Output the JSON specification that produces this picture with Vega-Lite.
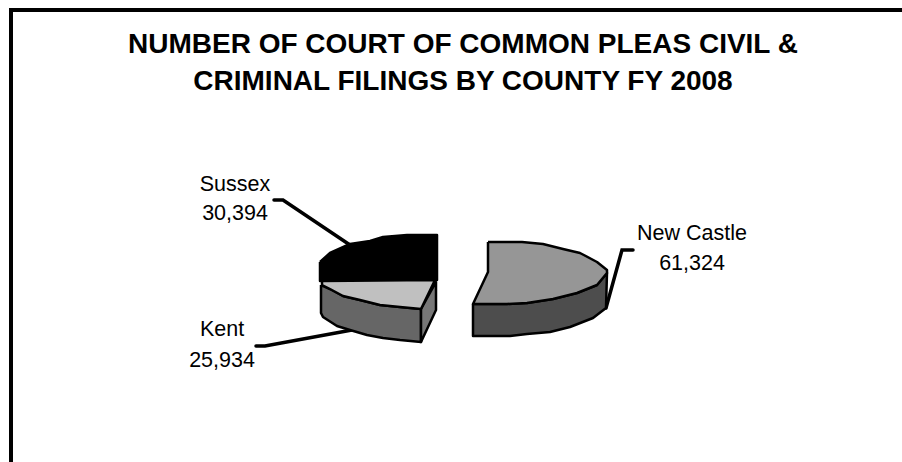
{
"$schema":"https://vega.github.io/schema/vega-lite/v6.json",
"width":902,"height":462,"padding":0,"autosize":"none","background":"white",
"config":{"view":{"stroke":null}},
"title":{"text":["NUMBER OF COURT OF COMMON PLEAS CIVIL &","CRIMINAL FILINGS BY COUNTY FY 2008"],"font":"Liberation Sans","fontSize":28,"fontWeight":"bold","color":"black","anchor":"middle","align":"center","lineHeight":37,"baseline":"alphabetic","offset":0,"dy":118,"dx":12},
"datasets":{
"shapes":[
{"part":"Sussex","s":0,"x":320,"y":262},{"part":"Sussex","s":1,"x":330,"y":253},{"part":"Sussex","s":2,"x":350,"y":244},{"part":"Sussex","s":3,"x":370,"y":241},{"part":"Sussex","s":4,"x":383,"y":237},{"part":"Sussex","s":5,"x":407,"y":235},{"part":"Sussex","s":6,"x":437,"y":235},{"part":"Sussex","s":7,"x":437,"y":280},{"part":"Sussex","s":8,"x":320,"y":281},{"part":"Sussex","s":9,"x":320,"y":262},
{"part":"KentSide","s":0,"x":321,"y":285},{"part":"KentSide","s":1,"x":330,"y":289},{"part":"KentSide","s":2,"x":343,"y":296},{"part":"KentSide","s":3,"x":360,"y":300},{"part":"KentSide","s":4,"x":380,"y":305},{"part":"KentSide","s":5,"x":400,"y":307},{"part":"KentSide","s":6,"x":421,"y":309},{"part":"KentSide","s":7,"x":421,"y":342},{"part":"KentSide","s":8,"x":400,"y":340},{"part":"KentSide","s":9,"x":383,"y":338},{"part":"KentSide","s":10,"x":367,"y":335},{"part":"KentSide","s":11,"x":350,"y":330},{"part":"KentSide","s":12,"x":337,"y":326},{"part":"KentSide","s":13,"x":323,"y":317},{"part":"KentSide","s":14,"x":321,"y":313},{"part":"KentSide","s":15,"x":321,"y":285},
{"part":"KentEnd","s":0,"x":421,"y":309},{"part":"KentEnd","s":1,"x":436,"y":282},{"part":"KentEnd","s":2,"x":436,"y":310},{"part":"KentEnd","s":3,"x":421,"y":342},{"part":"KentEnd","s":4,"x":421,"y":309},
{"part":"KentTop","s":0,"x":322,"y":281},{"part":"KentTop","s":1,"x":435,"y":280},{"part":"KentTop","s":2,"x":421,"y":309},{"part":"KentTop","s":3,"x":400,"y":307},{"part":"KentTop","s":4,"x":380,"y":305},{"part":"KentTop","s":5,"x":360,"y":300},{"part":"KentTop","s":6,"x":343,"y":296},{"part":"KentTop","s":7,"x":330,"y":289},{"part":"KentTop","s":8,"x":322,"y":285},{"part":"KentTop","s":9,"x":322,"y":281},
{"part":"NewCastleSide","s":0,"x":473,"y":304},{"part":"NewCastleSide","s":1,"x":507,"y":304},{"part":"NewCastleSide","s":2,"x":527,"y":303},{"part":"NewCastleSide","s":3,"x":553,"y":299},{"part":"NewCastleSide","s":4,"x":577,"y":293},{"part":"NewCastleSide","s":5,"x":597,"y":285},{"part":"NewCastleSide","s":6,"x":607,"y":273},{"part":"NewCastleSide","s":7,"x":606,"y":308},{"part":"NewCastleSide","s":8,"x":593,"y":318},{"part":"NewCastleSide","s":9,"x":570,"y":327},{"part":"NewCastleSide","s":10,"x":550,"y":332},{"part":"NewCastleSide","s":11,"x":527,"y":334},{"part":"NewCastleSide","s":12,"x":510,"y":336},{"part":"NewCastleSide","s":13,"x":473,"y":336},{"part":"NewCastleSide","s":14,"x":473,"y":304},
{"part":"NewCastleTop","s":0,"x":488,"y":242},{"part":"NewCastleTop","s":1,"x":522,"y":242},{"part":"NewCastleTop","s":2,"x":543,"y":244},{"part":"NewCastleTop","s":3,"x":563,"y":249},{"part":"NewCastleTop","s":4,"x":580,"y":253},{"part":"NewCastleTop","s":5,"x":597,"y":262},{"part":"NewCastleTop","s":6,"x":607,"y":270},{"part":"NewCastleTop","s":7,"x":607,"y":273},{"part":"NewCastleTop","s":8,"x":597,"y":285},{"part":"NewCastleTop","s":9,"x":577,"y":293},{"part":"NewCastleTop","s":10,"x":553,"y":299},{"part":"NewCastleTop","s":11,"x":527,"y":303},{"part":"NewCastleTop","s":12,"x":507,"y":304},{"part":"NewCastleTop","s":13,"x":473,"y":304},{"part":"NewCastleTop","s":14,"x":488,"y":272},{"part":"NewCastleTop","s":15,"x":488,"y":242}
],
"leaders":[
{"county":"Sussex","s":0,"x":274,"y":200},{"county":"Sussex","s":1,"x":283,"y":200},{"county":"Sussex","s":2,"x":350,"y":245},
{"county":"Kent","s":0,"x":256,"y":346},{"county":"Kent","s":1,"x":265,"y":346},{"county":"Kent","s":2,"x":352,"y":330},
{"county":"New Castle","s":0,"x":633,"y":250},{"county":"New Castle","s":1,"x":622,"y":250},{"county":"New Castle","s":2,"x":606,"y":308}
],
"frame":[{"s":0,"x":11,"y":462},{"s":1,"x":11,"y":10},{"s":2,"x":902,"y":10}],
"labels":[
{"county":"Sussex","filings":30394,"x":235,"y1":184.5,"y2":213.5},
{"county":"Kent","filings":25934,"x":222,"y1":329.5,"y2":360.5},
{"county":"New Castle","filings":61324,"x":692,"y1":233.5,"y2":263.5}
]},
"layer":[
{"data":{"name":"frame"},"mark":{"type":"line","stroke":"black","strokeWidth":4,"clip":false},"encoding":{"x":{"field":"x","type":"quantitative","scale":{"domain":[0,902]},"axis":null},"y":{"field":"y","type":"quantitative","scale":{"domain":[462,0]},"axis":null},"order":{"field":"s"}}},
{"data":{"name":"leaders"},"mark":{"type":"line","stroke":"black","strokeWidth":3.5,"strokeCap":"round"},"encoding":{"x":{"field":"x","type":"quantitative","scale":{"domain":[0,902]},"axis":null},"y":{"field":"y","type":"quantitative","scale":{"domain":[462,0]},"axis":null},"detail":{"field":"county"},"order":{"field":"s"}}},
{"data":{"name":"shapes"},"mark":{"type":"line","stroke":"black","strokeWidth":2.5,"strokeJoin":"round"},"encoding":{"x":{"field":"x","type":"quantitative","scale":{"domain":[0,902]},"axis":null},"y":{"field":"y","type":"quantitative","scale":{"domain":[462,0]},"axis":null},"fill":{"field":"part","type":"nominal","legend":null,"scale":{"domain":["Sussex","KentSide","KentEnd","KentTop","NewCastleSide","NewCastleTop"],"range":["#000000","#666666","#777777","#c0c0c0","#4d4d4d","#969696"]}},"detail":{"field":"part"},"order":{"field":"s"}}},
{"data":{"name":"labels"},"mark":{"type":"text","font":"Liberation Sans","fontSize":21.5,"color":"black","align":"center"},"encoding":{"x":{"field":"x","type":"quantitative","scale":{"domain":[0,902]},"axis":null},"y":{"field":"y1","type":"quantitative","scale":{"domain":[462,0]},"axis":null},"text":{"field":"county"}}},
{"data":{"name":"labels"},"mark":{"type":"text","font":"Liberation Sans","fontSize":21.5,"color":"black","align":"center"},"encoding":{"x":{"field":"x","type":"quantitative","scale":{"domain":[0,902]},"axis":null},"y":{"field":"y2","type":"quantitative","scale":{"domain":[462,0]},"axis":null},"text":{"field":"filings","type":"quantitative","format":","}}}
]
}
